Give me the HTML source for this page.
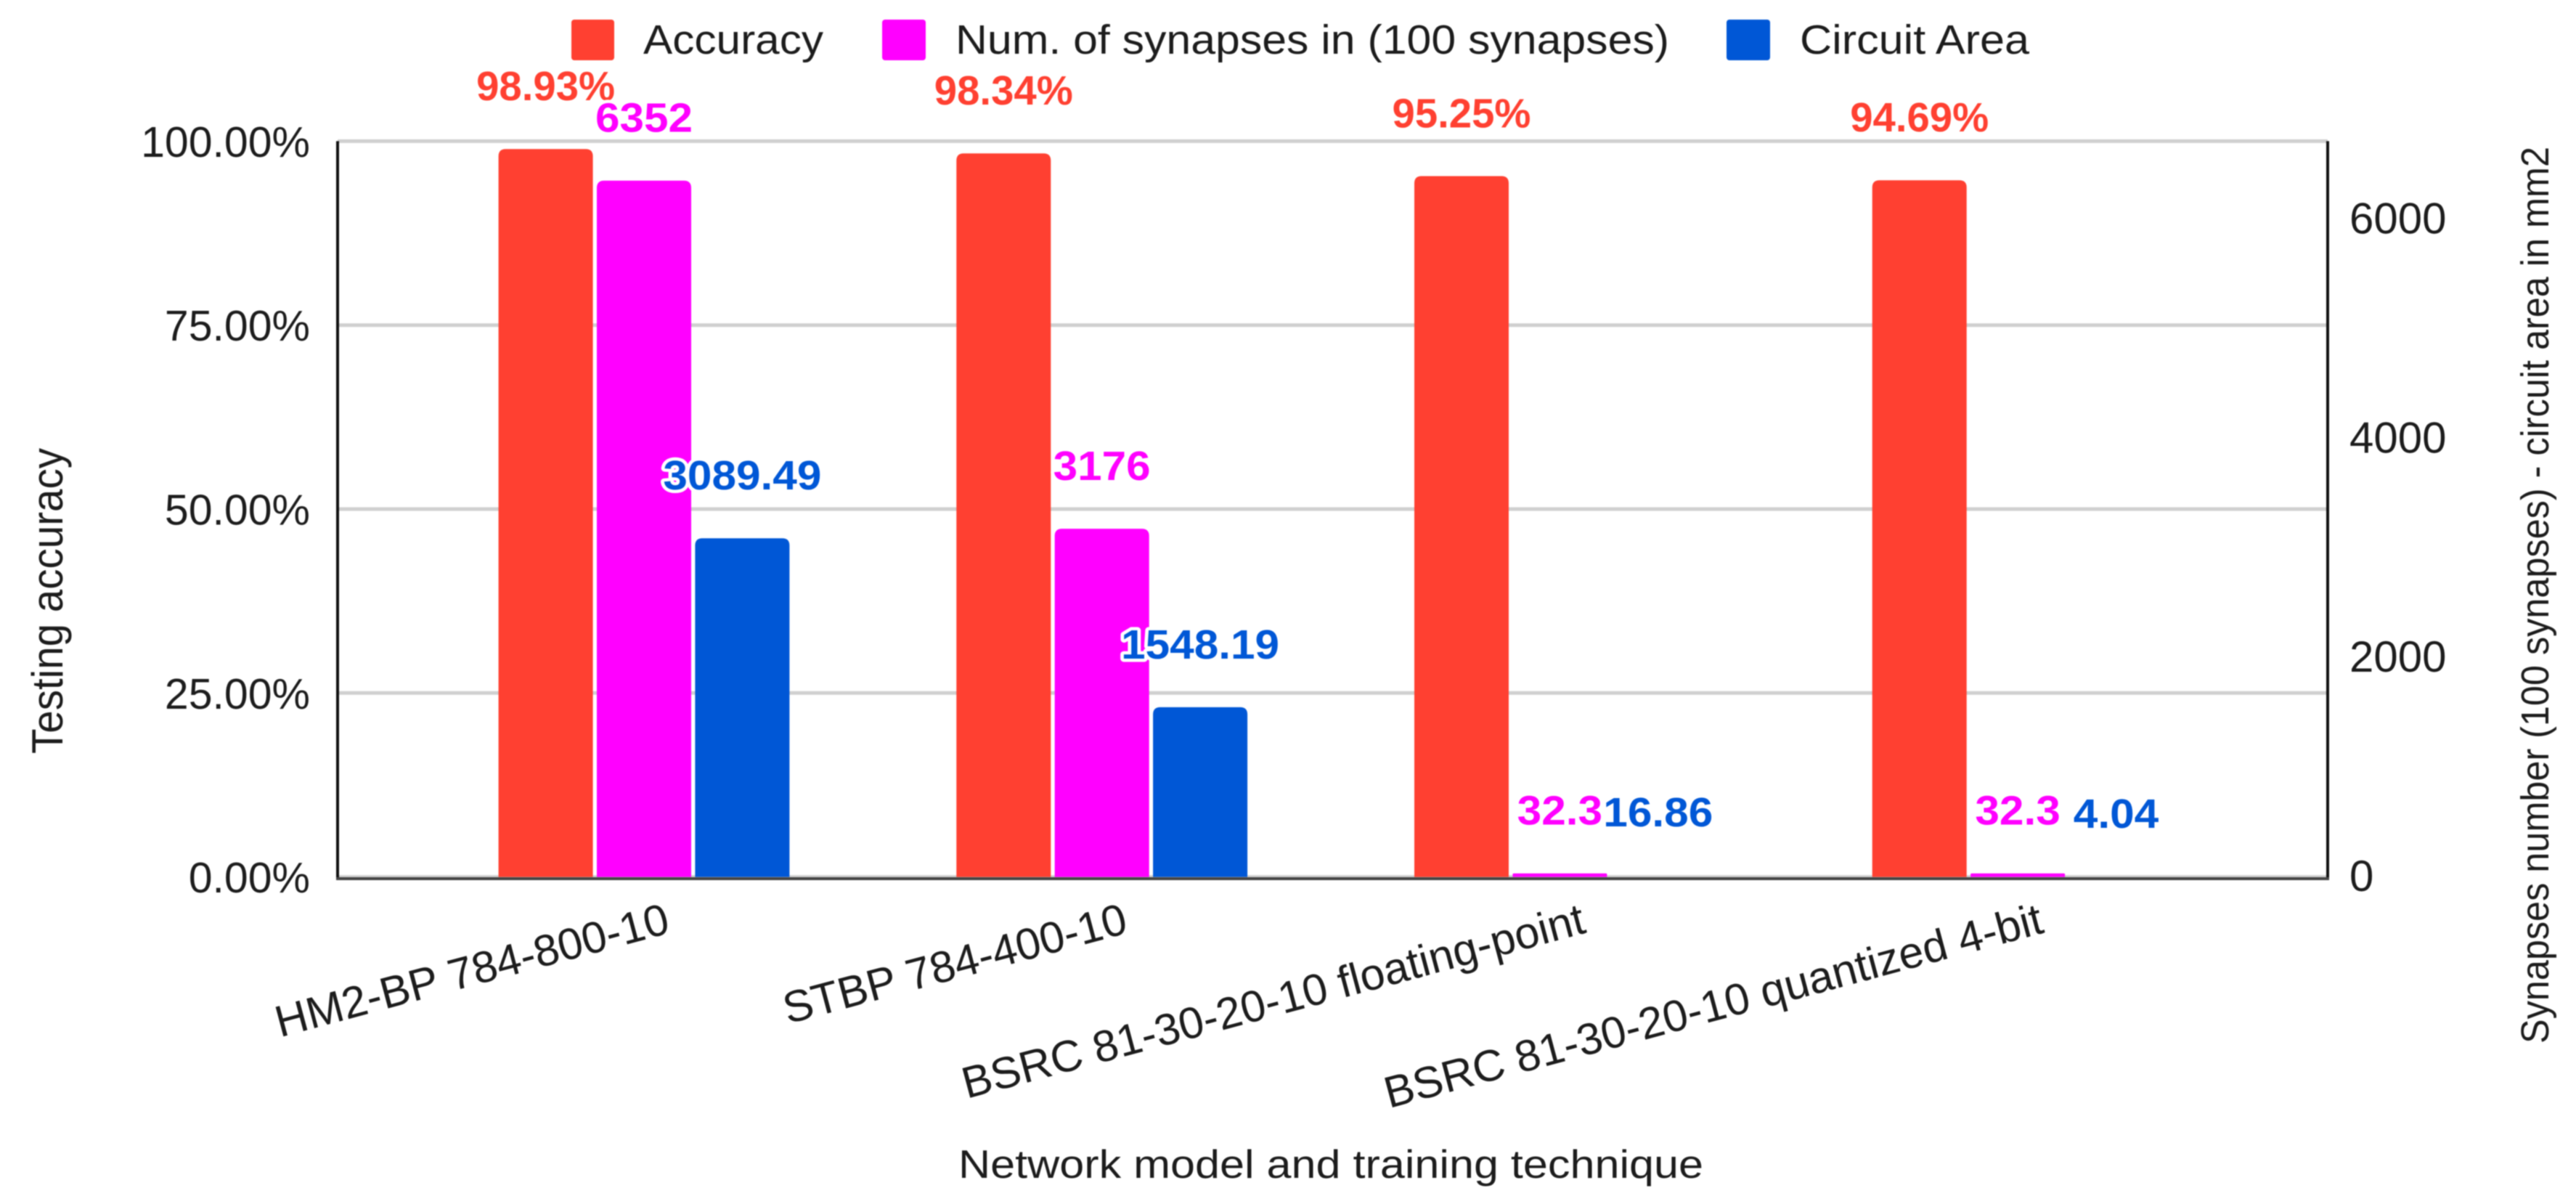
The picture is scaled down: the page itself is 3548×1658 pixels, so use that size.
<!DOCTYPE html>
<html lang="en">
<head>
<meta charset="utf-8">
<title>Testing accuracy, synapses and circuit area by network model</title>
<style>
  html, body { margin: 0; padding: 0; background: #ffffff; overflow: hidden; }
  svg { display: block; filter: blur(0.8px); }
  text { font-family: "Liberation Sans", sans-serif; }
</style>
</head>
<body>
<svg id="chart" xmlns="http://www.w3.org/2000/svg" width="3548" height="1658" viewBox="0 0 3548 1658">
  <rect x="0" y="0" width="3548" height="1658" fill="#ffffff"/>
  <g id="grid"></g>
  <g id="bars"></g>
  <g id="axes"></g>
  <g id="ticks"></g>
  <g id="cats"></g>
  <g id="values"></g>

  <g>
    <g>
      <rect x="787" y="27" width="59" height="56" rx="4" fill="#ff4031"/>
      <text x="886" y="74" font-size="57" fill="#1c1c1c" textLength="248" lengthAdjust="spacingAndGlyphs">Accuracy</text>
    </g>
    <g>
      <rect x="1215" y="27" width="60" height="56" rx="4" fill="#ff00ff"/>
      <text x="1316" y="74" font-size="57" fill="#1c1c1c" textLength="983" lengthAdjust="spacingAndGlyphs">Num. of synapses in (100 synapses)</text>
    </g>
    <g>
      <rect x="2378" y="27" width="60" height="56" rx="4" fill="#0057d6"/>
      <text x="2479" y="74" font-size="57" fill="#1c1c1c" textLength="316" lengthAdjust="spacingAndGlyphs">Circuit Area</text>
    </g>
  </g>

  <text x="1320" y="1622" font-size="55" fill="#1c1c1c" textLength="1026" lengthAdjust="spacingAndGlyphs">Network model and training technique</text>
  <text transform="translate(86 1038) rotate(-90)" font-size="60" fill="#1c1c1c" textLength="421" lengthAdjust="spacingAndGlyphs">Testing accuracy</text>
  <text transform="translate(3510 1437) rotate(-90)" font-size="54" fill="#1c1c1c" textLength="1235" lengthAdjust="spacingAndGlyphs">Synapses number (100 synapses) - circuit area in mm2</text>
</svg>

<script>
var categories = [
  "HM2-BP 784-800-10",
  "STBP 784-400-10",
  "BSRC 81-30-20-10 floating-point",
  "BSRC 81-30-20-10 quantized 4-bit"
];
var accuracy = [98.93, 98.34, 95.25, 94.69];
var synapses = [6352, 3176, 32.3, 32.3];
var circuitArea = [3089.49, 1548.19, 16.86, 4.04];
var leftTicks = [0, 25, 50, 75, 100];
var rightTicks = [0, 2000, 4000, 6000];

var NS = "http://www.w3.org/2000/svg";
var plotLeft = 465, plotRight = 3206, plotTop = 194.4, plotBottom = 1207.6;
var leftMax = 100, rightMax = 6712;
var firstCenter = 887, groupStep = 630.7, barStep = 135.4, barWidth = 130;

function yLeft(v) { return plotBottom - (v / leftMax) * (plotBottom - plotTop); }
function yRight(v) { return plotBottom - (v / rightMax) * (plotBottom - plotTop); }
function groupX(i) { return firstCenter + groupStep * i; }

function make(tag, attrs, parent) {
  var el = document.createElementNS(NS, tag);
  for (var k in attrs) { el.setAttribute(k, attrs[k]); }
  parent.appendChild(el);
  return el;
}

function labelWidth(s) {
  var w = 0;
  for (var i = 0; i < s.length; i++) {
    var c = s.charAt(i);
    w += c === "." ? 17 : c === "%" ? 40 : 33.5;
  }
  return w;
}

var grid = document.getElementById("grid");
var bars = document.getElementById("bars");
var axes = document.getElementById("axes");
var ticks = document.getElementById("ticks");
var cats = document.getElementById("cats");
var values = document.getElementById("values");

leftTicks.forEach(function (t) {
  var line = make("line", { x1: plotLeft, x2: plotRight, y1: yLeft(t), y2: yLeft(t), stroke: "#d0d0d0", "stroke-width": 5 }, grid);
  
  

  var lab = make("text", { x: 427, y: yLeft(t) + 21.5, "text-anchor": "end", "font-size": 59, fill: "#1c1c1c" }, ticks);
  lab.textContent = t.toFixed(2) + "%";
  
  
});

rightTicks.forEach(function (t) {
  var lab = make("text", { x: 3236, y: yRight(t) + 19.5, "font-size": 60, fill: "#1c1c1c" }, ticks);
  lab.textContent = String(t);
  
  
});

function barPath(x, top, w, bottom) {
  var h = bottom - top;
  var r = Math.min(10, h / 3, w / 2);
  return "M" + x + " " + bottom + "V" + (top + r) + "Q" + x + " " + top + " " + (x + r) + " " + top +
    "H" + (x + w - r) + "Q" + (x + w) + " " + top + " " + (x + w) + " " + (top + r) + "V" + bottom + "Z";
}

var series = [
  { key: "accuracy", vals: accuracy, y: yLeft, color: "#ff4031", fmt: function (v) { return v.toFixed(2) + "%"; } },
  { key: "synapses", vals: synapses, y: yRight, color: "#ff00ff", fmt: function (v) { return String(v); } },
  { key: "circuit-area", vals: circuitArea, y: yRight, color: "#0057d6", fmt: function (v) { return String(v); } }
];

series.forEach(function (s, si) {
  s.vals.forEach(function (v, i) {
    var cx = groupX(i) + (si - 1) * barStep;
    var top = s.y(v);
    var bar = make("path", {
      d: barPath(cx - barWidth / 2, top, barWidth, plotBottom),
      fill: s.color,
      "fill-opacity": plotBottom - top < 3 ? 0 : 1
    }, bars);
    
    

    var txt = s.fmt(v);
    var lab = make("text", {
      x: cx, y: top - 67, "text-anchor": "middle", "font-size": 57, "font-weight": "bold",
      fill: s.color, stroke: "#ffffff", "stroke-width": 9, "stroke-linejoin": "round",
      "paint-order": "stroke", textLength: labelWidth(txt), lengthAdjust: "spacingAndGlyphs"
    }, values);
    lab.textContent = txt;
    
    
  });
});

var leftAxis = make("line", { x1: plotLeft, x2: plotLeft, y1: plotTop, y2: plotBottom + 4, stroke: "#111111", "stroke-width": 4 }, axes);



var rightAxis = make("line", { x1: plotRight, x2: plotRight, y1: plotTop, y2: plotBottom + 4, stroke: "#111111", "stroke-width": 4 }, axes);



var xAxis = make("line", { x1: plotLeft - 2, x2: plotRight + 2, y1: plotBottom + 2.4, y2: plotBottom + 2.4, stroke: "#444444", "stroke-width": 4 }, axes);



categories.forEach(function (c, i) {
  var ex = groupX(i) + 38, ey = 1284;
  var lab = make("text", {
    transform: "translate(" + ex + " " + ey + ") rotate(-15)",
    "text-anchor": "end", "font-size": 61, fill: "#1c1c1c"
  }, cats);
  lab.textContent = c;
  
  
});
</script>
</body>
</html>
